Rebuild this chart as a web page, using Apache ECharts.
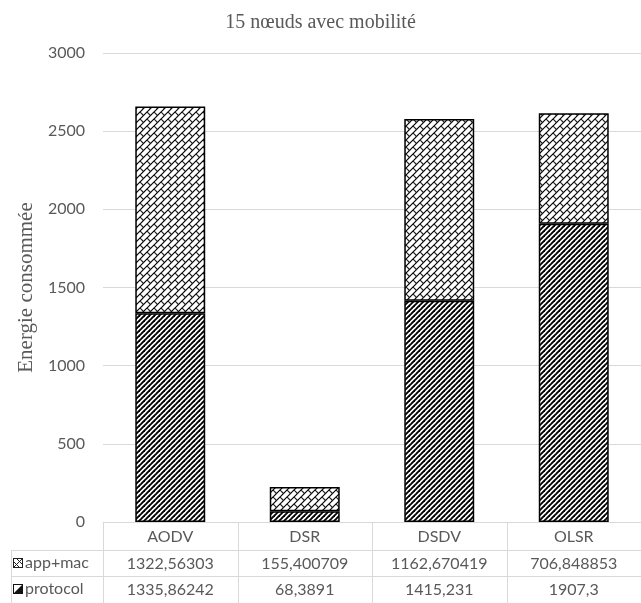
<!DOCTYPE html>
<html>
<head>
<meta charset="utf-8">
<script src="https://cdn.jsdelivr.net/npm/echarts@6/dist/echarts.min.js"></script>
<style>html,body{margin:0;padding:0;background:#fff}#c{width:641px;height:603px}</style>
</head>
<body>
<div id="c"></div>
<script>
const categories = ['AODV', 'DSR', 'DSDV', 'OLSR'];
const appMac = [1322.56303, 155.400709, 1162.670419, 706.848853];
const protocol = [1335.86242, 68.3891, 1415.231, 1907.3];
const seriesNames = ['app+mac', 'protocol'];
const titleText = '15 nœuds avec mobilité';
const yName = 'Energie consommée';

const TXT = '#595959';
const LINE = '#d9d9d9';
const FONT = 'Lato';
const SERIF = 'Liberation Serif';

function fmt(v) { return String(v).replace('.', ','); }

function stripeTile() {
  const s = 5, c = document.createElement('canvas');
  c.width = s; c.height = s;
  const g = c.getContext('2d');
  g.fillStyle = '#fff'; g.fillRect(0, 0, s, s);
  g.strokeStyle = '#000'; g.lineWidth = 1.9;
  for (let k = 0; k <= 2; k++) {
    const cc = k * s;
    g.beginPath(); g.moveTo(-s, cc + s); g.lineTo(cc + s, -s); g.stroke();
  }
  return c;
}
function crossTile() {
  const s = 7, c = document.createElement('canvas');
  c.width = s; c.height = s;
  const g = c.getContext('2d');
  g.fillStyle = '#fff'; g.fillRect(0, 0, s, s);
  g.strokeStyle = '#000'; g.lineWidth = 1.2;
  for (let k = 0; k <= 2; k++) {
    const cc = k * s;
    g.beginPath(); g.moveTo(-s, cc + s); g.lineTo(cc + s, -s); g.stroke();
  }
  g.strokeStyle = '#222'; g.lineWidth = 1.1;
  [[0, 0], [s, 0], [0, s], [s, s], [-s, 0], [0, -s], [-s, -s], [s, -s], [-s, s]].forEach(([dx, dy]) => {
    g.beginPath(); g.moveTo(dx, dy); g.lineTo(dx + s / 2, dy + s / 2); g.stroke();
  });
  return c;
}
function iconApp() {
  const c = document.createElement('canvas'); c.width = 10; c.height = 10;
  const g = c.getContext('2d');
  g.fillStyle = '#fff'; g.fillRect(0, 0, 10, 10);
  g.strokeStyle = '#222'; g.lineWidth = 1;
  g.beginPath(); g.moveTo(1, 9); g.lineTo(9, 1); g.moveTo(1, 4); g.lineTo(6, 9); g.moveTo(4, 1); g.lineTo(9, 6); g.stroke();
  g.strokeRect(0.5, 0.5, 9, 9);
  return 'image://' + c.toDataURL();
}
function iconProt() {
  const c = document.createElement('canvas'); c.width = 10; c.height = 10;
  const g = c.getContext('2d');
  g.fillStyle = '#fff'; g.fillRect(0, 0, 10, 10);
  g.fillStyle = '#111';
  g.beginPath(); g.moveTo(10, 0); g.lineTo(10, 10); g.lineTo(0, 10); g.closePath(); g.fill();
  g.strokeStyle = '#111'; g.lineWidth = 1;
  g.strokeRect(0.5, 0.5, 9, 9);
  return 'image://' + c.toDataURL();
}

const chart = echarts.init(document.getElementById('c'), null, { renderer: 'canvas' });
const stripePat = { image: stripeTile(), repeat: 'repeat' };
const crossPat = { image: crossTile(), repeat: 'repeat' };

const legendBase = {
  orient: 'vertical', left: 13, padding: 0,
  itemWidth: 10, itemHeight: 10,
  selectedMode: false,
  textStyle: { fontFamily: FONT, fontSize: 16, color: TXT, padding: [0, 0, 0, -3] }
};

chart.setOption({
  animation: false,
  backgroundColor: '#fff',
  title: {
    text: titleText, left: 'center', top: 8,
    textStyle: { fontFamily: SERIF, fontSize: 20, fontWeight: 'normal', color: TXT }
  },
  legend: [
    Object.assign({}, legendBase, { top: 555, data: [{ name: seriesNames[0], icon: iconApp() }] }),
    Object.assign({}, legendBase, { top: 581, data: [{ name: seriesNames[1], icon: iconProt() }] })
  ],
  grid: { left: 103, top: 53, width: 548, bottom: 81, containLabel: false },
  xAxis: {
    type: 'category', data: categories,
    axisLine: { show: true, lineStyle: { color: LINE, width: 1 } },
    axisTick: { show: false },
    axisLabel: {
      interval: 0, margin: 1,
      formatter: (val, idx) => `{h|${val}}\n{v|${fmt(appMac[idx])}}\n{v|${fmt(protocol[idx])}}`,
      rich: {
        h: { lineHeight: 28, fontFamily: FONT, fontSize: 16, color: TXT },
        v: { lineHeight: 26, fontFamily: FONT, fontSize: 16, color: TXT }
      }
    }
  },
  yAxis: {
    type: 'value', min: 0, max: 3000, interval: 500,
    name: yName, nameLocation: 'middle', nameGap: 58,
    nameTextStyle: { fontFamily: SERIF, fontSize: 21, color: TXT },
    axisLine: { show: false }, axisTick: { show: false },
    axisLabel: { margin: 18, fontFamily: FONT, fontSize: 16, color: TXT, formatter: v => String(v) },
    splitLine: { lineStyle: { color: LINE, width: 1 } }
  },
  series: [
    {
      name: seriesNames[1], type: 'bar', stack: 'total', data: protocol,
      barWidth: '52%',
      itemStyle: { color: stripePat, borderColor: '#000', borderWidth: 1.5 },
      emphasis: { disabled: true }
    },
    {
      name: seriesNames[0], type: 'bar', stack: 'total', data: appMac,
      barWidth: '52%',
      itemStyle: { color: crossPat, borderColor: '#000', borderWidth: 1.5 },
      emphasis: { disabled: true }
    }
  ]
});

// data table lines
const x0 = chart.convertToPixel({ xAxisIndex: 0 }, categories[0]);
const x1 = chart.convertToPixel({ xAxisIndex: 0 }, categories[1]);
const y0 = chart.convertToPixel({ yAxisIndex: 0 }, 0);
const band = x1 - x0;
const H = chart.getHeight();
const tableLeft = 11;
const rowA = y0 + 28, rowB = y0 + 54;
const els = [];
const ls = { stroke: LINE, lineWidth: 1 };
function px(v) { return Math.round(v) + 0.5; }
for (let i = 0; i <= categories.length; i++) {
  const xb = px(x0 - band / 2 + i * band);
  els.push({ type: 'line', shape: { x1: xb, y1: y0, x2: xb, y2: H }, style: ls, silent: true });
}
const xr = x0 - band / 2 + categories.length * band;
[rowA, rowB].forEach(r => {
  els.push({ type: 'line', shape: { x1: tableLeft, y1: px(r), x2: xr, y2: px(r) }, style: ls, silent: true });
});
els.push({ type: 'line', shape: { x1: px(tableLeft), y1: rowA, x2: px(tableLeft), y2: H }, style: ls, silent: true });
chart.setOption({ graphic: { elements: els } });
</script>
</body>
</html>
